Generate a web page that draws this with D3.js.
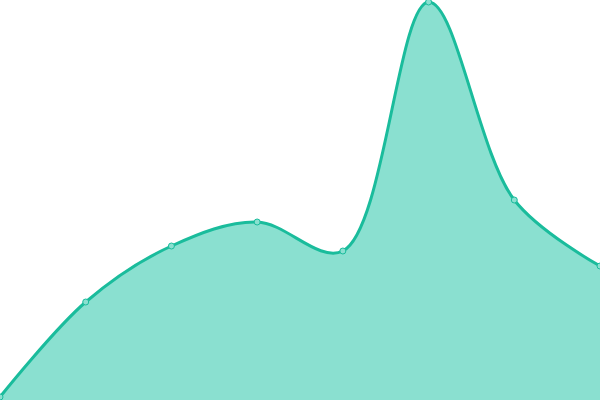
<!DOCTYPE html>
<html><head><meta charset="utf-8">
<script src="https://cdn.jsdelivr.net/npm/d3@7"></script>
<style>html,body{margin:0;padding:0;background:#fff;overflow:hidden}</style>
</head><body><svg id="c" width="600" height="400"></svg>
<script>
const categories = ["A","B","C","D","E","F","G","H"];
const values = [3, 98, 154, 178, 149, 398, 200, 134];

const W = 600, H = 400;
const svg = d3.select("#c");
const x = d3.scalePoint().domain(categories).range([0, W]);
const y = d3.scaleLinear().domain([0, 400]).range([H, 0]);
const data = categories.map((c, i) => ({c, v: values[i]}));
const curve = d3.curveCatmullRom.alpha(0.5);

svg.append("path").datum(data)
  .attr("d", d3.area().x(d => x(d.c)).y0(H).y1(d => y(d.v)).curve(curve))
  .attr("fill", "#8ae0d0");
svg.append("path").datum(data)
  .attr("d", d3.line().x(d => x(d.c)).y(d => y(d.v)).curve(curve))
  .attr("fill", "none").attr("stroke", "#1abc9c").attr("stroke-width", 3);
svg.selectAll("circle").data(data).join("circle")
  .attr("cx", d => x(d.c)).attr("cy", d => y(d.v)).attr("r", 3)
  .attr("fill", "#8ae0d0").attr("stroke", "#1abc9c").attr("stroke-width", 1);
</script></body></html>
